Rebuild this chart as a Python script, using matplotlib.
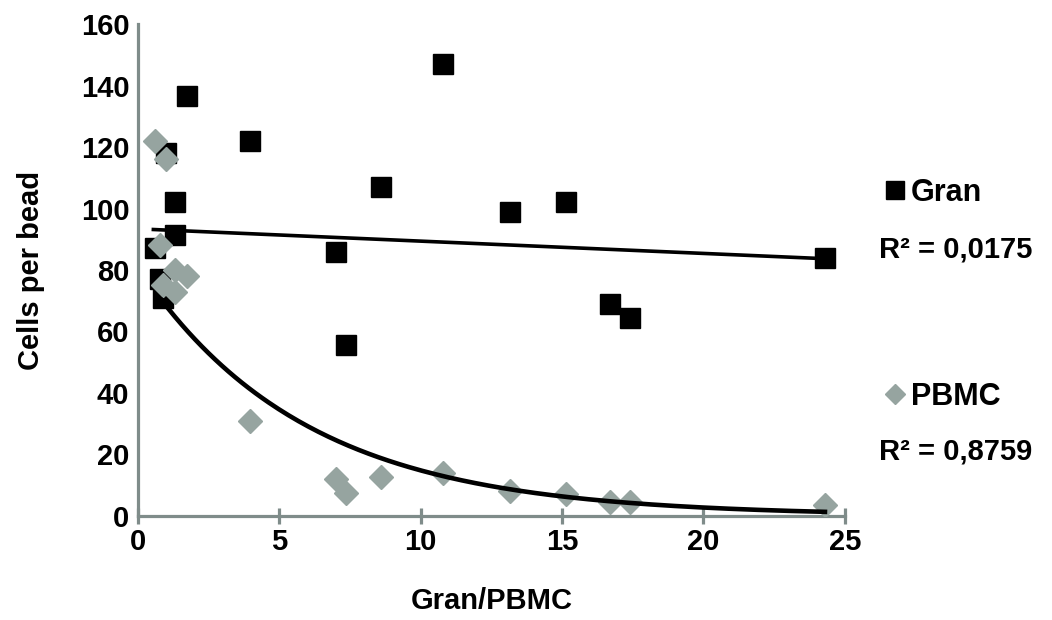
import numpy as np
import matplotlib
matplotlib.use('Agg')
import matplotlib.pyplot as plt
from matplotlib.lines import Line2D

# ratio Gran/PBMC per sample
gran_pbmc = [0.6, 0.8, 0.9, 1.0, 1.3, 1.3, 1.75, 3.95, 7.0, 7.35, 8.6, 10.8, 13.15, 15.15, 16.7, 17.4, 24.3]
gran_cells = [87, 77, 71, 118, 102, 91.5, 136.5, 122, 86, 55.5, 107, 147, 99, 102, 69, 64.5, 84]
pbmc_cells = [122, 88, 75, 116, 80, 73, 78, 31, 12, 7.5, 12.5, 14, 8, 7, 4.5, 4.5, 3.5]

# trend lines (excel fits)
GRAN_SLOPE, GRAN_ICPT = -0.40, 93.4       # linear
PBMC_A, PBMC_B = 81.0, -0.17              # exponential y = a*exp(b*x)
PBMC_START = 0.85

GRAN_R2 = 'R² = 0,0175'
PBMC_R2 = 'R² = 0,8759'

AXIS_COLOR = '#7f8c8a'
PBMC_COLOR = '#96a4a0'

plt.rcParams['font.family'] = ['Liberation Sans', 'DejaVu Sans']
plt.rcParams['font.weight'] = 'bold'

x = np.array(gran_pbmc)
g = np.array(gran_cells)
p = np.array(pbmc_cells)

fig = plt.figure(figsize=(10.52, 6.2), dpi=100)
ax = fig.add_axes([0.131, 0.168, 0.672, 0.793])

ax.plot(x, g, 's', color='black', ms=14, mec='black', zorder=2)
ax.plot(x, p, 'D', color=PBMC_COLOR, ms=12, mec=PBMC_COLOR, zorder=3)

xl = np.linspace(x.min() - 0.05, x.max(), 100)
ax.plot(xl, GRAN_SLOPE * xl + GRAN_ICPT, color='black', lw=2.6, zorder=4)

xe = np.linspace(PBMC_START, x.max(), 200)
ax.plot(xe, PBMC_A * np.exp(PBMC_B * xe), color='black', lw=3.3, zorder=4)

ax.set_xlim(0, 25)
ax.set_ylim(0, 160)
ax.set_xticks(range(0, 26, 5))
ax.set_yticks(range(0, 161, 20))
for s in ['top', 'right']:
    ax.spines[s].set_visible(False)
for s in ['left', 'bottom']:
    ax.spines[s].set_color(AXIS_COLOR)
    ax.spines[s].set_linewidth(2.3)
ax.tick_params(axis='x', direction='inout', length=12, width=2.3, color=AXIS_COLOR, labelsize=21, pad=3)
ax.tick_params(axis='y', length=0, labelsize=21, pad=6)
ax.set_xlabel('Gran/PBMC', fontsize=21, fontweight='bold', labelpad=22)
ax.set_ylabel('Cells per bead', fontsize=21, fontweight='bold', labelpad=26)

h1 = Line2D([], [], marker='s', ls='', color='black', ms=13)
h2 = Line2D([], [], marker='D', ls='', color=PBMC_COLOR, ms=10)
leg1 = fig.legend([h1], ['Gran'], loc='center left', bbox_to_anchor=(0.812, 0.689),
                  frameon=False, fontsize=22, handletextpad=0.05, handlelength=0.9)
leg2 = fig.legend([h2], ['PBMC'], loc='center left', bbox_to_anchor=(0.812, 0.36),
                  frameon=False, fontsize=22, handletextpad=0.05, handlelength=0.9)
fig.text(0.836, 0.597, GRAN_R2, fontsize=21, fontweight='bold', va='center')
fig.text(0.836, 0.271, PBMC_R2, fontsize=21, fontweight='bold', va='center')

fig.savefig('out.png', dpi=100)
